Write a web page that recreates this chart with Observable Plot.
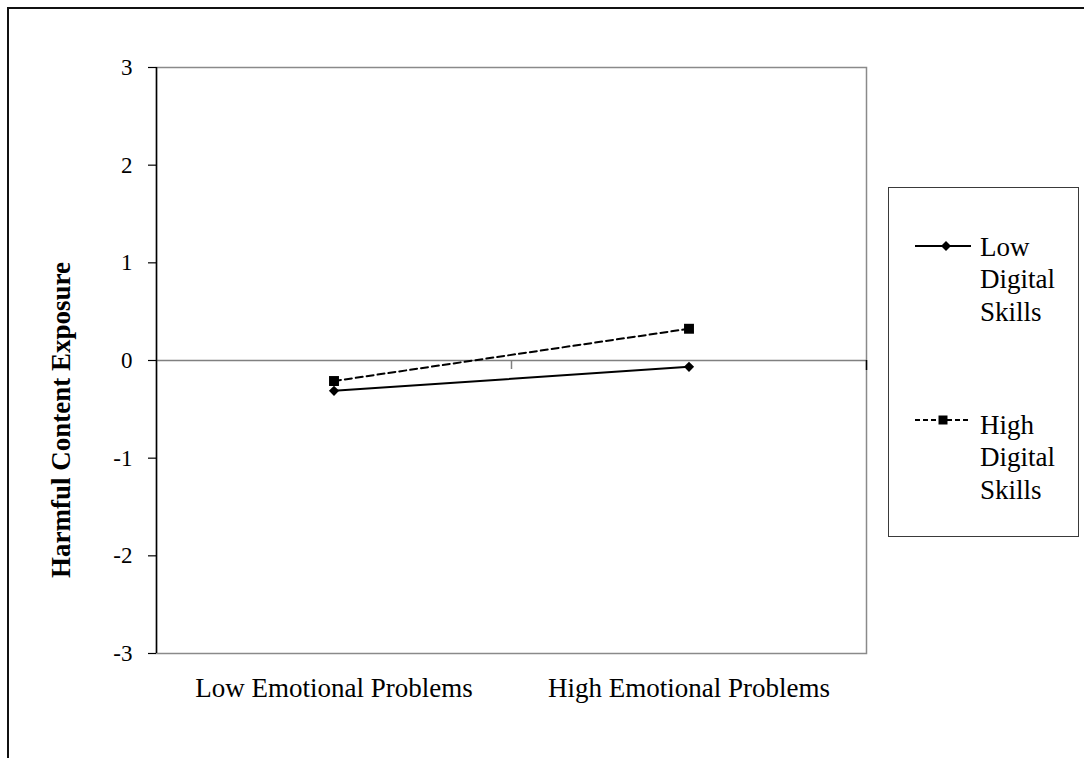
<!DOCTYPE html>
<html>
<head>
<meta charset="utf-8">
<script src="https://cdn.jsdelivr.net/npm/d3@7"></script>
<script src="https://cdn.jsdelivr.net/npm/@observablehq/plot@0.6"></script>
<style>
  body { margin: 0; background: #fff; }
  #wrap { position: relative; width: 1084px; height: 758px; overflow: hidden; font-family: "Liberation Serif", "Times New Roman", serif; }
  #outer { position: absolute; left: 7px; top: 7px; width: 1200px; height: 900px; border-top: 2px solid #111; border-left: 2px solid #111; pointer-events: none; }
  #legend { position: absolute; left: 888px; top: 187px; width: 191px; height: 350px; border: 1.5px solid #3a3a3a; box-sizing: border-box; }
  .lg-text { position: absolute; left: 91px; font-size: 27px; line-height: 32.5px; color: #000; }
  .lg-swatch { position: absolute; left: 26px; }
  #ylabel { position: absolute; left: 61px; top: 420px; transform: translate(-50%, -50%) rotate(-90deg); white-space: nowrap; font-size: 27px; font-weight: bold; color: #000; line-height: 1; }
</style>
</head>
<body>
<div id="wrap">
  <div id="chart"></div>
  <div id="outer"></div>
  <div id="ylabel"></div>
  <div id="legend"></div>
</div>
<script>
const categories = ["Low Emotional Problems", "High Emotional Problems"];
const seriesNames = ["Low Digital Skills", "High Digital Skills"];
const lowSkillsValues = [-0.31, -0.065];
const highSkillsValues = [-0.21, 0.325];
const yTicks = [-3, -2, -1, 0, 1, 2, 3];
const yTickLabels = ["-3", "-2", "-1", "0", "1", "2", "3"];
const yLabel = "Harmful Content Exposure";

const lowData = categories.map((c, i) => ({cat: c, pos: i + 0.5, v: lowSkillsValues[i]}));
const highData = categories.map((c, i) => ({cat: c, pos: i + 0.5, v: highSkillsValues[i]}));
const boundaries = d3.range(categories.length + 1);

const FONT = "Liberation Serif, Times New Roman, serif";

const chart = Plot.plot({
  width: 1084,
  height: 758,
  marginLeft: 156,
  marginRight: 218,
  marginTop: 67,
  marginBottom: 105,
  style: {fontFamily: FONT, color: "#000", background: "transparent"},
  x: {domain: [0, categories.length], axis: null},
  y: {domain: [-3, 3], axis: null},
  marks: [
    Plot.frame({stroke: "#8a8a8a", strokeWidth: 1.5}),
    Plot.ruleY([0], {stroke: "#808080", strokeWidth: 1.5}),
    Plot.ruleX(boundaries.filter(b => b > 0 && b < categories.length), {y1: 0, y2: 0, insetBottom: -9, stroke: "#808080", strokeWidth: 1.5}),
    Plot.ruleX([categories.length], {y1: 0, y2: 0, insetBottom: -10, stroke: "#000", strokeWidth: 1.5}),
    Plot.ruleY(yTicks, {y: d => d, x1: 0, x2: 0, insetLeft: -8, stroke: "#000", strokeWidth: 1.2}),
    Plot.text(yTicks, {y: d => d, frameAnchor: "left", textAnchor: "end", dx: -24, text: (d, i) => yTickLabels[i], fontSize: 23, fontFamily: FONT, fill: "#000"}),
    Plot.ruleX([0], {stroke: "#000", strokeWidth: 1.5}),
    Plot.line(lowData, {x: "pos", y: "v", stroke: "#000", strokeWidth: 2}),
    Plot.line(highData, {x: "pos", y: "v", stroke: "#000", strokeWidth: 2, strokeDasharray: "7,4"}),
    Plot.dot(lowData, {x: "pos", y: "v", symbol: "diamond2", r: 4.6, fill: "#000", stroke: "none"}),
    Plot.dot(highData, {x: "pos", y: "v", symbol: "square", r: 5.6, fill: "#000", stroke: "none"}),
    Plot.text(categories, {x: (d, i) => i + 0.5, frameAnchor: "bottom", lineAnchor: "bottom", dy: 43, text: d => d, fontSize: 27, fontFamily: FONT, fill: "#000"})
  ]
});
document.getElementById("chart").appendChild(chart);
document.getElementById("ylabel").textContent = yLabel;

// Legend
const legend = document.getElementById("legend");
const entries = [
  {name: seriesNames[0], dash: null, symbol: "diamond", top: 229.5, lineY: 58},
  {name: seriesNames[1], dash: "5,3", symbol: "square", top: 407.5, lineY: 232}
];
entries.forEach(e => {
  const sw = document.createElementNS("http://www.w3.org/2000/svg", "svg");
  sw.setAttribute("width", 58);
  sw.setAttribute("height", 14);
  sw.setAttribute("class", "lg-swatch");
  sw.style.top = (e.lineY - 7) + "px";
  const ln = document.createElementNS("http://www.w3.org/2000/svg", "line");
  ln.setAttribute("x1", 0); ln.setAttribute("x2", 56);
  ln.setAttribute("y1", 7); ln.setAttribute("y2", 7);
  ln.setAttribute("stroke", "#000"); ln.setAttribute("stroke-width", 2);
  if (e.dash) ln.setAttribute("stroke-dasharray", e.dash);
  sw.appendChild(ln);
  const p = document.createElementNS("http://www.w3.org/2000/svg", "path");
  const sym = e.symbol === "diamond" ? d3.symbol(d3.symbolDiamond2, 64) : d3.symbol(d3.symbolSquare, 81);
  p.setAttribute("d", sym());
  p.setAttribute("transform", e.symbol === "diamond" ? "translate(31,7)" : "translate(28,7)");
  p.setAttribute("fill", "#000");
  sw.appendChild(p);
  legend.appendChild(sw);
  const t = document.createElement("div");
  t.className = "lg-text";
  t.style.top = (e.top - 187) + "px";
  t.innerHTML = e.name.split(" ").join("<br>");
  legend.appendChild(t);
});
</script>
</body>
</html>
